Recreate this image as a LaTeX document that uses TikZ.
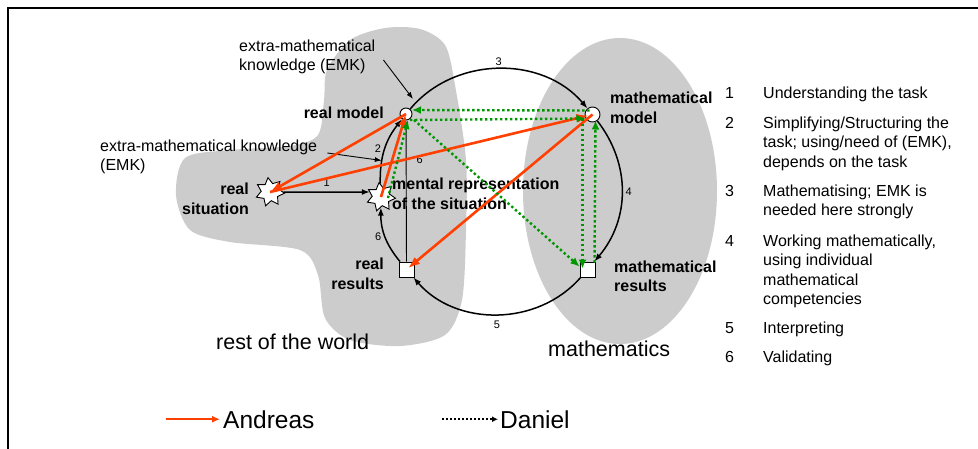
\documentclass[tikz,border=0pt]{standalone}
\usepackage{fontspec}
\setmainfont{Liberation Sans}
\usetikzlibrary{arrows.meta,shapes.geometric}
\definecolor{andreasred}{RGB}{255,64,0}
\definecolor{danielgreen}{RGB}{0,150,0}
\definecolor{blobgray}{RGB}{204,204,204}
\newcommand{\lblsize}{\fontsize{16}{19.5}\selectfont}
\newcommand{\numsize}{\fontsize{11}{13}\selectfont}
\newcommand{\bigsize}{\fontsize{21.5}{26}\selectfont}
\newcommand{\legsize}{\fontsize{24.5}{29}\selectfont}

\begin{document}
\begin{tikzpicture}[
  x=1pt, y=1pt,
  lbl/.style={font=\lblsize\bfseries, inner sep=0pt},
  txt/.style={font=\lblsize, inner sep=0pt},
  num/.style={font=\numsize, inner sep=1pt},
  place/.style={draw, fill=white, line width=0.9pt, inner sep=0pt},
  situ/.style={place, star, star points=7, star point ratio=1.65, minimum size=29pt, rotate=8},
  cycarr/.style={-{Latex[length=8pt,width=6pt]}, line width=1.5pt},
  thinarr/.style={-{Latex[length=7pt,width=5pt]}, line width=0.9pt},
  andreas/.style={-{Latex[length=12pt,width=9pt]}, line width=2.6pt, draw=andreasred},
  daniel/.style={-{Latex[length=9pt,width=8pt]}, line width=2.4pt, draw=danielgreen, dash pattern=on 2.4pt off 2.6pt},
]
\useasboundingbox (0,0) rectangle (978,-448);
% ---- frame (runs off the page)
\draw[line width=2pt] (8,-470) -- (8,-8) -- (1000,-8);

% ---- the two worlds
\fill[blobgray] plot[smooth cycle] coordinates {(327,-70) (350,-40) (385,-28) (420,-29) (445,-45) (455,-85) (466,-160) (466,-230) (462,-300) (445,-335) (400,-346) (350,-340) (325,-318) (318,-275) (300,-250) (230,-242) (190,-230) (176,-195) (185,-158) (230,-150) (290,-146) (318,-135) (324,-100)};
\fill[blobgray] (620,-191) ellipse[x radius=97, y radius=153];
\node[font=\bigsize, anchor=base west, inner sep=0pt] (world) at (216,-349) {rest of the world};
\node[font=\bigsize, anchor=base west, inner sep=0pt] (maths) at (548,-356) {mathematics};

% ---- stations of the cycle
\node[place, circle, minimum size=12pt] (rmodel) at (406,-114) {};
\node[place, circle, minimum size=15pt] (mmodel) at (592.5,-114.5) {};
\node[situ] (rsit) at (270,-192) {};
\node[situ] (mrep) at (381,-197) {};
\node[place, minimum size=15pt] (rres) at (406.5,-269.5) {};
\node[place, minimum size=15pt] (mres) at (587.5,-269.5) {};

\node[lbl, anchor=east] (rmodelL) at (384,-113) {real model};
\node[lbl, anchor=east, align=right] (rsitL) at (249,-199) {real\\situation};
\node[lbl, anchor=west, align=left] (mrepL) at (392,-194) {mental representation\\of the situation};
\node[lbl, anchor=west, align=left] (mmodelL) at (610,-108) {mathematical\\model};
\node[lbl, anchor=east, align=right] (rresL) at (384,-274) {real\\results};
\node[lbl, anchor=west, align=left] (mresL) at (614,-276.5) {mathematical\\results};
\node[txt, anchor=west, align=left] (emk1) at (239,-57) {extra-mathematical\\knowledge (EMK)};
\node[txt, anchor=west, align=left] (emk2) at (100,-157) {extra-mathematical knowledge\\(EMK)};

% ---- modelling cycle
\draw[cycarr] (rmodel) to[bend left=50] node[num, above=2pt] (s3) {3} (mmodel);
\draw[cycarr] (mmodel) to[bend left=39] node[num, right=2pt] (s4) {4} (mres);
\draw[cycarr] (mres) to[bend left=49] node[num, below=5pt] (s5) {5} (rres);
\draw[cycarr] (rres) to[bend left=20] node[num, left=2pt] (s6) {6} (mrep);
\draw[cycarr] (mrep) to[bend left=20] coordinate[pos=0.32] (a2) node[num, left=2pt] (s2) {2} (rmodel);
\draw[cycarr] (rsit) -- node[num, above=4pt] (s1) {1} (rsit -| mrep.west);
\draw[thinarr] (rres) -- node[num, pos=0.72, right=9pt] (s6b) {6} (rmodel);
\draw[thinarr] ([xshift=8pt,yshift=-3pt]emk1.east) -- ([xshift=7pt,yshift=15pt]rmodel.center);
\draw[thinarr] ([xshift=10pt,yshift=4pt]emk2.east) -- (a2);

% ---- Andreas
\draw[andreas] (mrep.center) -- (rmodel.center);
\draw[andreas] (rmodel.center) -- (rsit.center);
\draw[andreas, shorten >=4pt] (rsit.center) -- (mmodel.center);
\draw[andreas, shorten >=2pt] (mmodel.center) -- (rres.center);

% ---- Daniel
\draw[daniel] ([xshift=7pt,yshift=-1pt]mrep.center) -- ([xshift=2pt,yshift=-6pt]rmodel.center);
\draw[daniel] ([xshift=4pt,yshift=-6pt]rmodel.center) -- ([xshift=-7pt,yshift=-4pt]mmodel.center);
\draw[daniel] ([xshift=-3pt,yshift=4pt]mmodel.center) -- ([xshift=6pt,yshift=4pt]rmodel.center);
\draw[daniel] ([xshift=-10pt,yshift=-4pt]mmodel.center) -- ([xshift=-5pt,yshift=1pt]mres.center);
\draw[daniel] ([xshift=7pt,yshift=7pt]mres.center) -- ([xshift=3pt,yshift=-6pt]mmodel.center);
\draw[daniel] ([xshift=8pt,yshift=-6pt]rmodel.center) -- ([xshift=-8pt,yshift=3pt]mres.center);

% ---- phases
\foreach \n/\y/\t in {1/98/{Understanding the task},
  2/128/{Simplifying/Structuring the\\task; using/need of (EMK),\\depends on the task},
  3/196/{Mathematising; EMK is\\needed here strongly},
  4/246/{Working mathematically,\\using individual\\mathematical\\competencies},
  5/333/{Interpreting}, 6/362/{Validating}}
{
  \node[txt, anchor=base west] (n\n) at (725,-\y) {\n};
  \node[txt, anchor=base west] (t\n) at (763,-\y) {\begin{tabular}[t]{@{}l@{}}\t\end{tabular}};
}

% ---- legend
\node[font=\legsize, anchor=base west, inner sep=0pt] (legA) at (223,-428) {Andreas};
\node[font=\legsize, anchor=base west, inner sep=0pt] (legD) at (500,-428) {Daniel};
\draw[-{Latex[length=8pt,width=7pt]}, line width=2.2pt, draw=andreasred, shorten >=3pt] ([xshift=-57pt]legA.west) -- (legA.west);
\draw[-{Latex[length=6pt,width=6pt]}, line width=2pt, dash pattern=on 2pt off 2pt, shorten >=2pt] ([xshift=-58pt]legD.west) -- (legD.west);
\end{tikzpicture}
\end{document}
